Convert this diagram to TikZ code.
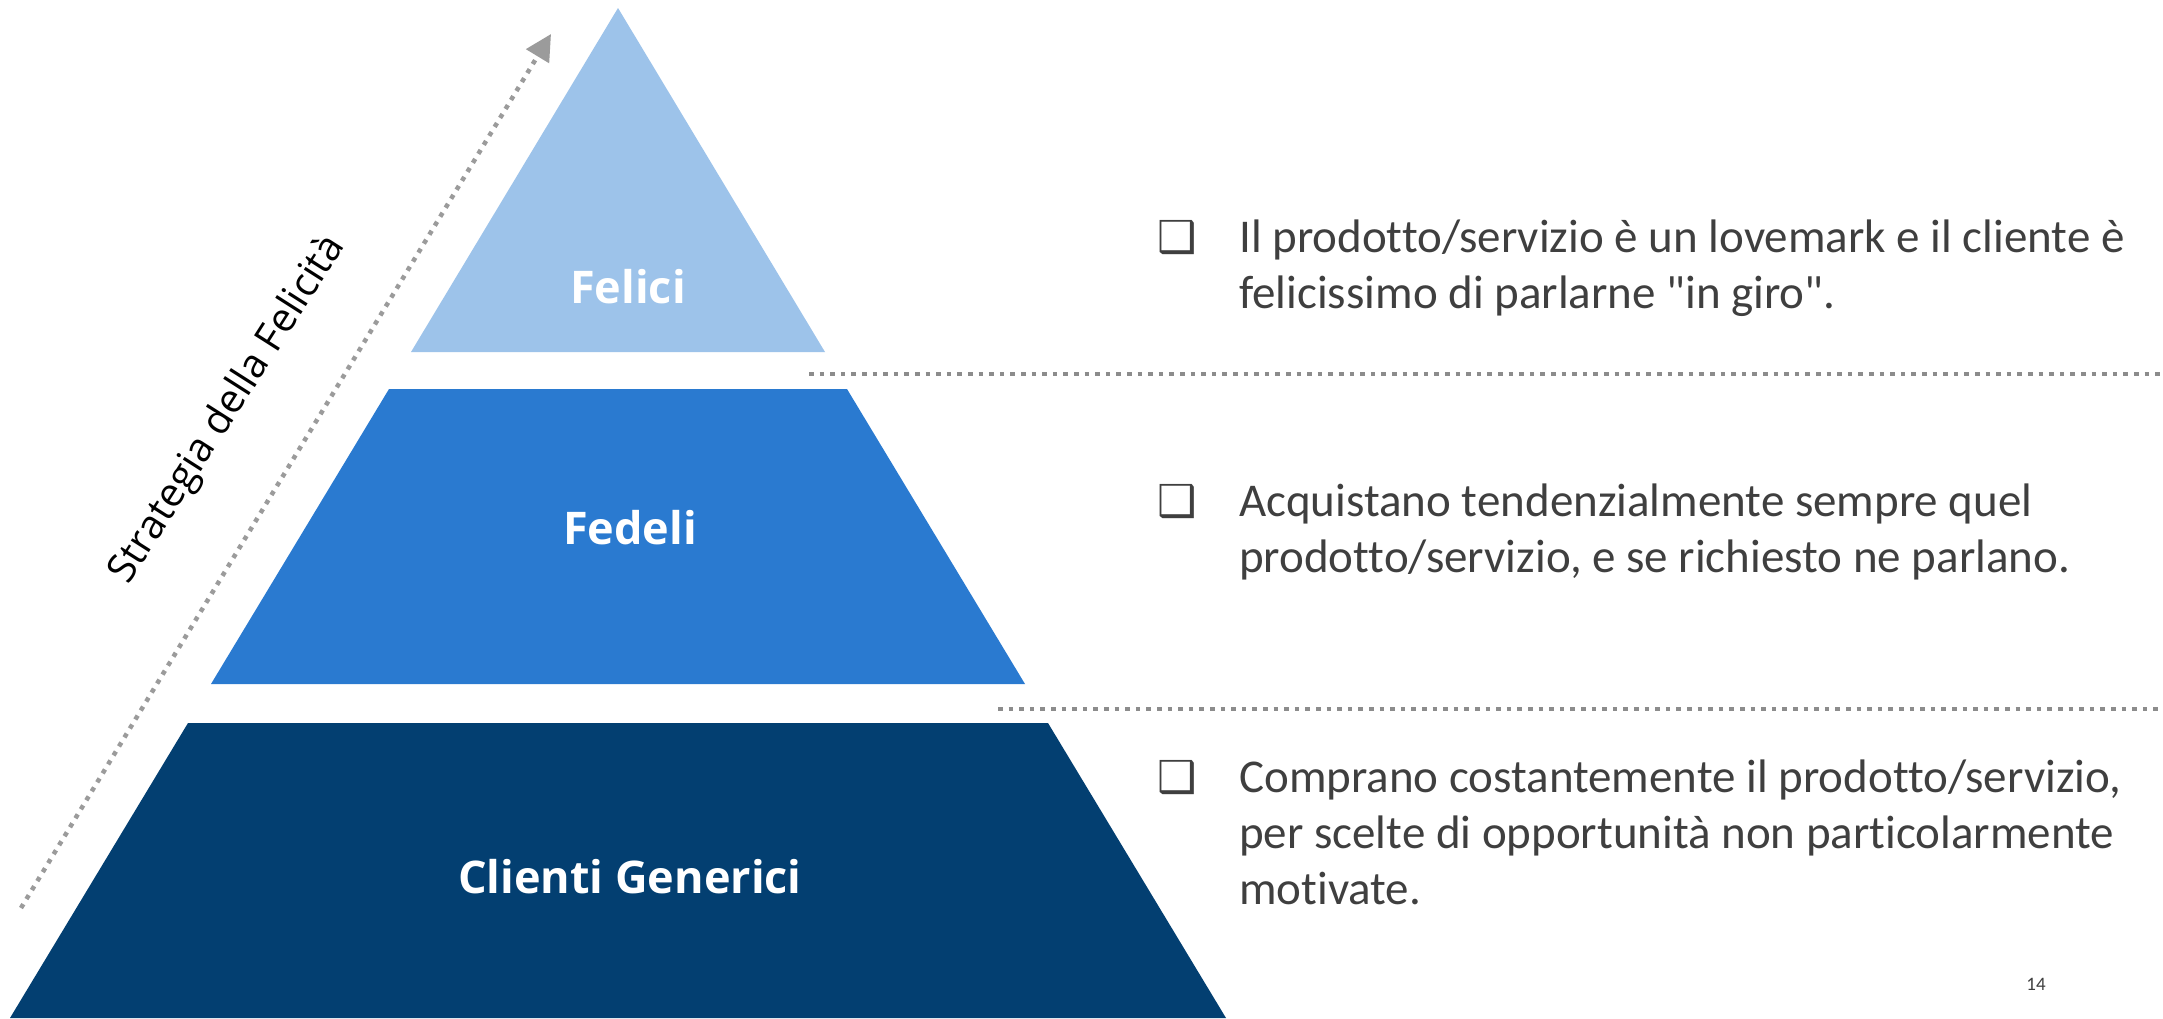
\documentclass[tikz,border=0pt]{standalone}
\usepackage{fontspec}
\setmainfont[Ligatures={TeXOff,NoCommon}]{Carlito}
\newfontfamily\labfont{Open Sans}
\newfontfamily\symfont{DejaVu Sans}
\usetikzlibrary{arrows.meta}
\definecolor{pyrA}{HTML}{9DC3EA}
\definecolor{pyrB}{HTML}{2A7AD0}
\definecolor{pyrC}{HTML}{033F71}
\definecolor{dotgray}{HTML}{8C8C8C}
\definecolor{arrgray}{HTML}{9B9B9B}
\definecolor{txtgray}{HTML}{3F3F3F}
\tikzset{
  tierlabel/.style={text=white, font=\labfont\bfseries\fontsize{45}{54}\selectfont, inner sep=0pt, anchor=base},
  bodyline/.style={text=txtgray, font=\fontsize{47}{56}\selectfont, inner sep=0pt, anchor=base west},
  bulletbox/.style={text=txtgray, font=\symfont\fontsize{44}{52}\selectfont, inner sep=0pt, anchor=base},
  sepline/.style={dotgray, line width=4.5pt, dash pattern=on 4.5pt off 6.1pt},
}
\begin{document}
\begin{tikzpicture}[x=1pt,y=-1pt]
\useasboundingbox[fill=white] (0,0) rectangle (2163,1018);
% pyramid tiers
\fill[pyrA] (618,8) -- (825,352) -- (411,352) -- cycle;
\fill[pyrB] (389,389) -- (847,389) -- (1025,684) -- (211,684) -- cycle;
\fill[pyrC] (188,723) -- (1048,723) -- (1226,1018) -- (10,1018) -- cycle;
\node[tierlabel] (felici) at (628,303) {Felici};
\node[tierlabel] (fedeli) at (630,544) {Fedeli};
\node[tierlabel] (clienti) at (630,893) {Clienti Generici};
% diagonal arrow
\coordinate (arrS) at (21,908);
\coordinate (arrE) at (551,34);
\draw[arrgray, line width=4.5pt, dash pattern=on 4.5pt off 6pt, -{Triangle[length=26pt,width=26pt]}] (arrS) -- (arrE);
\node[font=\labfont\fontsize{40}{46}\selectfont, rotate=57.5, inner sep=0pt] (strat) at (228,410) {Strategia della Felicità};
% separators
\coordinate (s1a) at (809,374); \coordinate (s1b) at (2163,374);
\coordinate (s2a) at (998,709); \coordinate (s2b) at (2163,709);
\draw[sepline] (s1a) -- (s1b);
\draw[sepline] (s2a) -- (s2b);
% right texts
\node[bulletbox] (b1) at (1177,252) {❑};
\node[bodyline] (t11) at (1239,252) {Il prodotto/servizio è un lovemark e il cliente è};
\node[bodyline] (t12) at (1239,308) {felicissimo di parlarne "in giro".};
\node[bulletbox] (b2) at (1177,516) {❑};
\node[bodyline] (t21) at (1239,516) {Acquistano tendenzialmente sempre quel};
\node[bodyline] (t22) at (1239,572) {prodotto/servizio, e se richiesto ne parlano.};
\node[bulletbox] (b3) at (1177,792) {❑};
\node[bodyline] (t31) at (1239,792) {Comprano costantemente il prodotto/servizio,};
\node[bodyline] (t32) at (1239,848) {per scelte di opportunità non particolarmente};
\node[bodyline] (t33) at (1239,904) {motivate.};
\node[text=txtgray, font=\fontsize{19}{22}\selectfont, inner sep=0pt, anchor=base] (pg) at (2036,990) {14};
\end{tikzpicture}
\end{document}
